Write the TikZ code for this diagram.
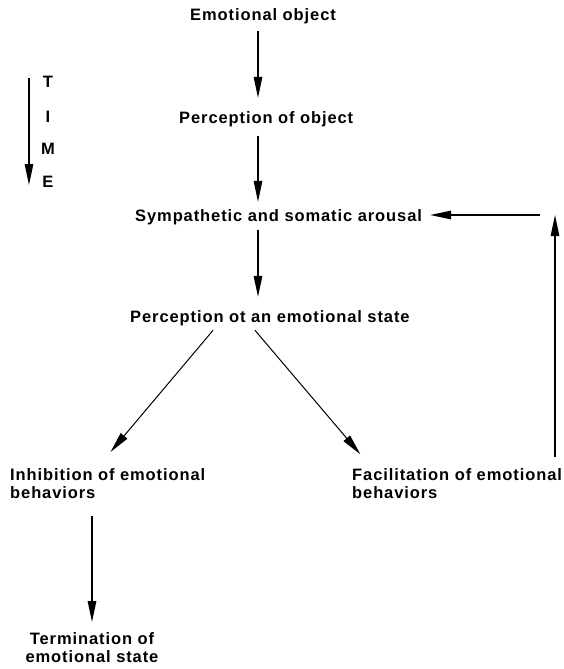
\documentclass[tikz,border=0pt]{standalone}
\usepackage{fontspec}
\setmainfont{Liberation Sans}
\newfontfamily\lab[LetterSpace=5.5]{Liberation Sans}
\usetikzlibrary{arrows.meta}

\begin{document}
\begin{tikzpicture}[x=1pt, y=-1pt, every node/.style={inner sep=0pt}]
\useasboundingbox (0,0) rectangle (564,669);
\tikzset{every node/.style={inner sep=0pt, font=\lab\bfseries\fontsize{16.5}{18.5}\selectfont}}
\node[anchor=base west] (eo) at (190,21) {Emotional object};
\node[anchor=base west] (po) at (179,123) {Perception of object};
\node[anchor=base west] (sym) at (135,221) {Sympathetic and somatic arousal};
\node[anchor=base west] (pes) at (130,322) {Perception ot an emotional state};
\node[anchor=north west, align=left] (inh) at (10,468) {Inhibition of emotional\\behaviors};
\node[anchor=north west, align=left] (fac) at (352,468) {Facilitation of emotional\\behaviors};
\node[anchor=north, align=center] (term) at (92,632) {Termination of\\emotional state};
\node (t) at (48,82) {T};
\node (i) at (48,117) {I};
\node (m) at (48,149) {M};
\node (e) at (48,182) {E};
\coordinate (col) at (258,0);
\coordinate (loop) at (555,215);
\coordinate (ta) at (29,78);
\coordinate (tb) at (29,185);

\tikzset{mystyle/.style={-{Triangle[length=21pt,width=8.5pt]}, line width=1.3pt}};
\path (eo.south -| col) edge [mystyle, shorten <=6pt, shorten >=13pt] (po.north -| col);
\path (po.south -| col) edge [mystyle, shorten <=9pt, shorten >=7pt] (sym.north -| col);
\path (sym.south -| col) edge [mystyle, shorten <=5pt, shorten >=13pt] (pes.north -| col);
\path (inh.south -| term.north) edge [mystyle, shorten <=17pt, shorten >=10pt] (term.north);
\path (fac.north west -| loop) edge [mystyle, shorten <=11pt] (loop);
\path (loop) edge [mystyle, shorten <=15pt, shorten >=8pt] (sym.east |- loop);
\path (ta) edge [mystyle] (tb);

\tikzset{mystyle/.style={-{Triangle[length=21pt,width=8.5pt]}, line width=1pt}};
\path ([xshift=87pt]pes.south west) edge [mystyle, shorten <=6pt, shorten >=21pt] ([xshift=87pt]inh.north west);
\path ([xshift=121pt]pes.south west) edge [mystyle, shorten <=6pt, shorten >=18pt] ([xshift=20pt]fac.north west);
\end{tikzpicture}
\end{document}
